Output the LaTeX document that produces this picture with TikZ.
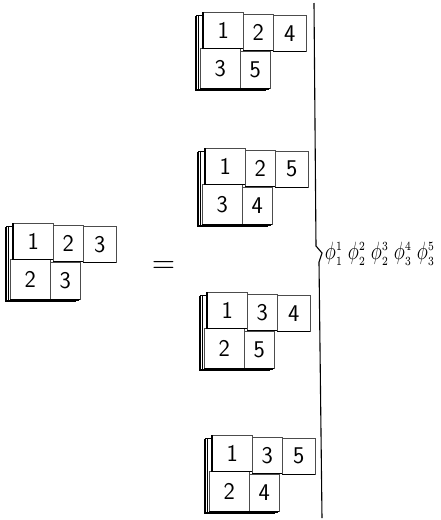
\documentclass[tikz,border=0pt]{standalone}
\usepackage{fontspec}
\usepackage{graphicx}
\usetikzlibrary{calc}

\tikzset{
  cell/.style={draw=black!70, line width=0.45pt, fill=white, inner sep=0pt,
    anchor=north west, font=\sffamily\fontsize{24}{24}\selectfont},
  bigcell/.style={cell, minimum width=40pt, minimum height=36pt},
  smallcell/.style={cell, minimum width=30pt, minimum height=36pt},
  thirdcell/.style={cell, minimum width=33pt, minimum height=36pt},
  lowbig/.style={cell, minimum width=40pt, minimum height=40pt},
  lowsmall/.style={cell, minimum width=30pt, minimum height=37pt},
  shade/.style={draw=black, line width=1.1pt},
  sheet/.style={draw=black, line width=0.7pt, fill=white},
  phi/.style={inner sep=0pt},
  rule/.style={draw=black, line width=1.1pt},
}

% a scaled factor phi^a_b with small indices
\newcommand\phifactor[2]{\scalebox{1.85}[2.5]{$\phi^{\scriptscriptstyle #1}_{\scriptscriptstyle #2}$}}

% one tableau of shape (3,2): name prefix, top-left corner of the first cell, five entries
\newcommand\youngtab[8]{%
  \begin{scope}[shift={(#2,#3)}]
    % the pile of sheets behind the tableau
    \foreach \k in {3,2,1}{
      \draw[sheet] (-3-1.7*\k, 2+0.9*\k) rectangle (67-1.7*\k, 76+0.9*\k);
    }
    % second row
    \node[lowsmall] (#1-22) at (37,39) {#8};
    \node[lowbig]   (#1-21) at (-3,36) {#7};
    \draw[shade] (#1-22.south west) -- (#1-22.south east);
    \draw[shade] (#1-21.south west) -- (#1-21.south east);
    % first row
    \node[thirdcell] (#1-13) at (70,3) {#6};
    \node[smallcell] (#1-12) at (40,2) {#5};
    \node[bigcell]   (#1-11) at (0,0)  {#4};
    \draw[shade] (#1-13.south west) -- (#1-13.south east);
    \draw[shade] (#1-12.south west) -- (#1-12.south east);
    \draw[shade] (#1-11.north west) -- (#1-11.south west) -- (#1-11.south east);
  \end{scope}
}

\begin{document}
\begin{tikzpicture}[x=1pt, y=-1pt]
  \useasboundingbox (0,0) rectangle (440,520);

  % left-hand side
  \youngtab{lhs}{13}{223}{1}{2}{3}{2}{3}

  % equality sign
  \node[inner sep=0pt] (eq) at (163.5,267) {\scalebox{3}{$=$}};

  % right-hand side
  \youngtab{ta}{203}{12}{1}{2}{4}{3}{5}
  \youngtab{tb}{205}{148}{1}{2}{5}{3}{4}
  \youngtab{tc}{207}{292}{1}{3}{4}{2}{5}
  \youngtab{td}{212}{435}{1}{3}{5}{2}{4}

  % bracket line with its kink
  \coordinate (top) at (314,3);
  \coordinate (kinkA) at (316,246);
  \coordinate (kinkB) at (322,253);
  \coordinate (kinkC) at (319,262);
  \coordinate (bottom) at (322,518);
  \draw[rule] (top) -- (kinkA) -- (kinkB) -- (kinkC) -- (bottom);

  % product of the phi's
  \node[phi] (p1) at (334,254) {\phifactor{1}{1}};
  \node[phi] (p2) at (357,254) {\phifactor{2}{2}};
  \node[phi] (p3) at (380,254) {\phifactor{3}{2}};
  \node[phi] (p4) at (403,254) {\phifactor{4}{3}};
  \node[phi] (p5) at (426,254) {\phifactor{5}{3}};
\end{tikzpicture}
\end{document}
